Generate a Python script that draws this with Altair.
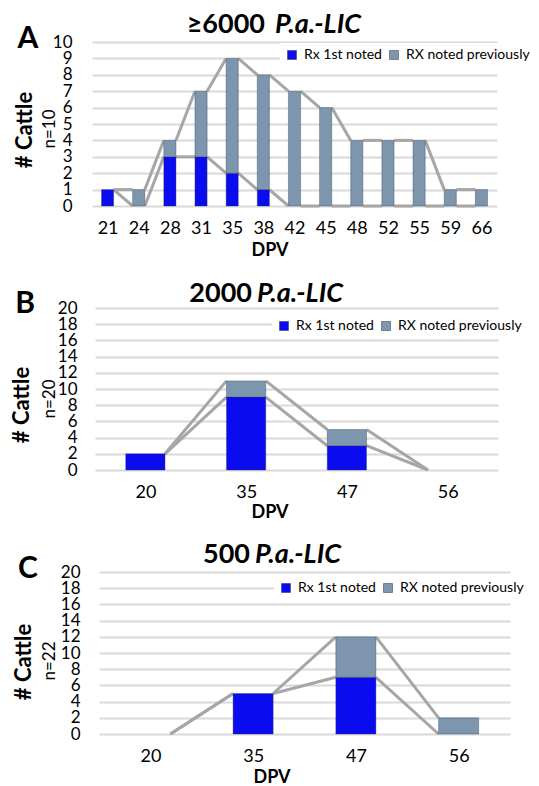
import altair as alt
import pandas as pd

# ---------------- data ----------------
A_dpv = ["21", "24", "28", "31", "35", "38", "42", "45", "48", "52", "55", "59", "66"]
A_first = [1, 0, 3, 3, 2, 1, 0, 0, 0, 0, 0, 0, 0]
A_prev = [0, 1, 1, 4, 7, 7, 7, 6, 4, 4, 4, 1, 1]

B_dpv = ["20", "35", "47", "56"]
B_first = [2, 9, 3, 0]
B_prev = [0, 2, 2, 0]

C_dpv = ["20", "35", "47", "56"]
C_first = [0, 5, 7, 0]
C_prev = [0, 0, 5, 2]

SERIES = ["Rx 1st noted", "RX noted previously"]
COLORS = ["#0b0bf0", "#7d96ad"]
FONT = "Lato"
HALF = 0.195  # half bar width, in category units


def txt(s, x, y, **kw):
    d = pd.DataFrame({"t": [s]})
    return alt.Chart(d).mark_text(font=FONT, color="black", **kw).encode(
        x=alt.value(x), y=alt.value(y), text="t:N")


def panel(dpv, first, prev, ymax, ystep, w, h, xoff, letter, num, nlab, P):
    n = len(dpv)
    rows = []
    for i in range(n):
        f, p = first[i], prev[i]
        if f > 0:
            rows.append(dict(i=i, series=SERIES[0], y0=0, y1=f))
        if p > 0:
            rows.append(dict(i=i, series=SERIES[1], y0=f, y1=f + p))
    bars_df = pd.DataFrame(rows)
    segs = []
    for i in range(n - 1):
        segs.append(dict(i=i, a=first[i], b=first[i + 1]))
        segs.append(dict(i=i, a=first[i] + prev[i], b=first[i + 1] + prev[i + 1]))
    seg_df = pd.DataFrame(segs)

    arr = "[" + ",".join("'%s'" % d for d in dpv) + "]"
    xscale = alt.Scale(domain=[-0.5, n - 0.5], range=[xoff, w], nice=False, zero=False)
    yscale = alt.Scale(domain=[0, ymax], nice=False)
    xaxis = alt.Axis(values=list(range(n)), labelExpr=arr + "[datum.value]",
                     grid=False, domain=False, ticks=False, labelFont=FONT,
                     labelFontSize=18, labelPadding=13, labelColor="black",
                     labelOverlap=False, labelFlush=False, title=None)
    yaxis = alt.Axis(values=list(range(0, ymax + 1, ystep)), grid=True,
                     gridColor="#d9d9d9", gridWidth=2, domain=False, ticks=False,
                     labelFont=FONT, labelFontSize=17, labelPadding=P["lp"],
                     labelColor="black", title=None, labelOverlap=False)

    lines = alt.Chart(seg_df).transform_calculate(
        xa="datum.i + %f" % HALF, xb="datum.i + 1 - %f" % HALF
    ).mark_rule(color="#a6a6a6", strokeWidth=3).encode(
        x=alt.X("xa:Q", scale=xscale, axis=xaxis),
        x2="xb:Q",
        y=alt.Y("a:Q", scale=yscale, axis=yaxis),
        y2="b:Q",
    )

    bars = alt.Chart(bars_df).transform_calculate(
        xl="datum.i - %f" % HALF, xr="datum.i + %f" % HALF
    ).mark_bar(stroke="#2b3550", strokeWidth=0.6, strokeOpacity=0.6).encode(
        x=alt.X("xl:Q", scale=xscale, axis=xaxis),
        x2="xr:Q",
        y=alt.Y("y0:Q", scale=yscale, axis=yaxis),
        y2="y1:Q",
        color=alt.Color("series:N", scale=alt.Scale(domain=SERIES, range=COLORS),
                        legend=alt.Legend(orient="none", legendX=P["lx"], legendY=P["ly"],
                                          direction="horizontal", title=None,
                                          symbolType="square", symbolSize=81,
                                          symbolStrokeColor="#2b3550", symbolStrokeWidth=0.5,
                                          labelFont=FONT, labelFontSize=14, labelColor="black",
                                          labelOffset=5, columnPadding=5, padding=5,
                                          fillColor="white", labelLimit=0)),
    )

    layers = [lines, bars,
              txt(letter, P["L"][0], P["L"][1], fontSize=30, fontWeight="bold", align="center", baseline="alphabetic"),
              txt(num, P["T"][0], P["T"][2], fontSize=27, fontWeight="bold", align="right", baseline="alphabetic"),
              txt("P.a.-LIC", P["T"][1], P["T"][2], fontSize=27, fontWeight="bold", fontStyle="italic", align="left", baseline="alphabetic"),
              txt("# Cattle", P["C"][0], P["C"][1], fontSize=22, fontWeight="bold", angle=270, align="center", baseline="middle"),
              txt(nlab, P["N"][0], P["N"][1], fontSize=17, angle=270, align="center", baseline="middle"),
              txt("DPV", P["D"][0], h + P["D"][1], fontSize=18, fontWeight="bold", align="center", baseline="alphabetic"),
              ]
    return alt.layer(*layers).properties(width=w, height=h)


# positions relative to each plot's top-left corner (all plots start at page x=92)
PA = dict(L=(-64, 6), T=(173, 183, -9), C=(-67, 88), N=(-42, 87), D=(178, 50),
          lx=188, ly=1, lp=20)
PB = dict(L=(-67, 5), T=(160, 165, -6), C=(-70, 97), N=(-42, 91), D=(178, 48),
          lx=180, ly=6, lp=15)
PC = dict(L=(-64, 6), T=(158, 163, -9), C=(-68, 90), N=(-42, 89), D=(180, 49),
          lx=182, ly=4, lp=12)

chA = panel(A_dpv, A_first, A_prev, 10, 1, 405, 164, 0, "A", "≥6000", "n=10", PA)
chB = panel(B_dpv, B_first, B_prev, 20, 2, 406, 162, 3, "B", "2000", "n=20", PB)
chC = panel(C_dpv, C_first, C_prev, 20, 2, 418, 162, 7, "C", "500", "n=22", PC)

chart = alt.vconcat(chA, chB, chC, spacing=102, bounds="flush").resolve_scale(
    color="independent").resolve_legend(color="independent").properties(
    autosize=alt.AutoSizeParams(type="none"),
    padding={"left": 84, "top": 34, "right": 439, "bottom": 744},
    background="white",
).configure_view(stroke=None)

chart.save("out.html", embed_options={"renderer": "svg", "actions": False})
